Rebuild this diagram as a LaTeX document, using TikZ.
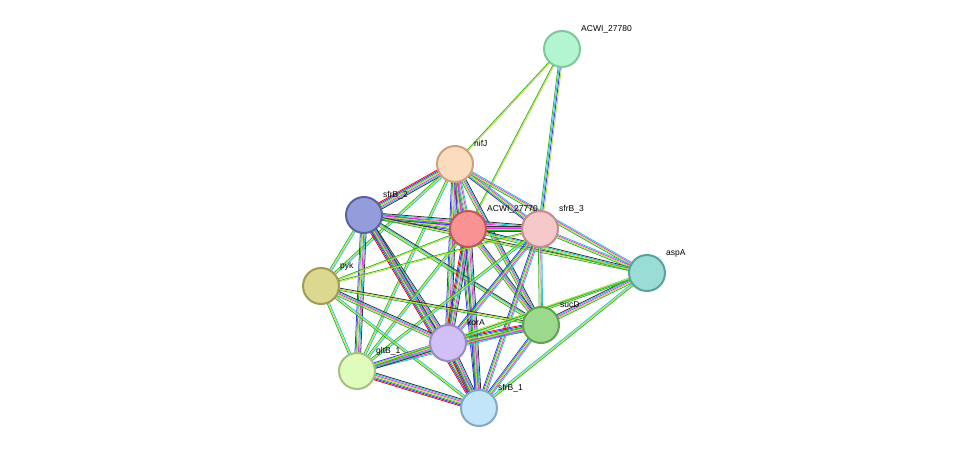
\documentclass[tikz,border=0pt]{standalone}
\usepackage{fontspec}
\setmainfont{Liberation Sans}
\usetikzlibrary{calc}
\pgfdeclarelayer{bg}\pgfsetlayers{bg,main}
\definecolor{cr}{HTML}{FF0000}
\definecolor{cb}{HTML}{3333FF}
\definecolor{cg}{HTML}{22BB22}
\definecolor{cy}{HTML}{C8D640}
\definecolor{cm}{HTML}{EE33EE}
\definecolor{cc}{HTML}{22C5D5}
\definecolor{ck}{HTML}{333333}
\definecolor{fa}{HTML}{B3F5D0}\definecolor{da}{HTML}{7FC79C}
\definecolor{fn}{HTML}{FCDCBF}\definecolor{dn}{HTML}{C9A27F}
\definecolor{fs2}{HTML}{959CDB}\definecolor{ds2}{HTML}{5B629F}
\definecolor{fb}{HTML}{F99393}\definecolor{db}{HTML}{C05656}
\definecolor{fs3}{HTML}{F7C8C8}\definecolor{ds3}{HTML}{BF8E8E}
\definecolor{fasp}{HTML}{99DDD6}\definecolor{dasp}{HTML}{5AA39A}
\definecolor{fp}{HTML}{DCD88F}\definecolor{dp}{HTML}{A09C52}
\definecolor{fsu}{HTML}{9CD98C}\definecolor{dsu}{HTML}{62A052}
\definecolor{fk}{HTML}{D0C0F7}\definecolor{dk}{HTML}{9A8AC0}
\definecolor{fg}{HTML}{E0FCBC}\definecolor{dg}{HTML}{A4C27E}
\definecolor{fs1}{HTML}{C3E5FA}\definecolor{ds1}{HTML}{80AAC8}
\newcommand\Edge[4]{\foreach \c [count=\i] in {#4}{\pgfmathsetmacro\o{(\i-(#3+1)/2)*1.15}\draw[draw=\c,line width=0.8pt] ($(#1)!\o pt!90:(#2)$) -- ($(#2)!\o pt!-90:(#1)$);}}
\tikzset{prot/.style={circle,minimum size=36pt,inner sep=0,line width=2pt,fill=f#1,draw=d#1},
lab/.style={anchor=base west,font=\fontsize{8.5}{10}\selectfont,inner sep=0}}
\begin{document}
\begin{tikzpicture}[x=1pt,y=-1pt]
\useasboundingbox (0,0) rectangle (975,454);
\node[prot=a] (a) at (562,49) {};
\node[prot=n] (n) at (455,164) {};
\node[prot=s2] (s2) at (364,215) {};
\node[prot=b] (b) at (468,229) {};
\node[prot=s3] (s3) at (540,229) {};
\node[prot=asp] (asp) at (647,273) {};
\node[prot=p] (p) at (321,286) {};
\node[prot=su] (su) at (541,325) {};
\node[prot=k] (k) at (448,343) {};
\node[prot=g] (g) at (357,371) {};
\node[prot=s1] (s1) at (479,408) {};
\node[lab] (la) at (581,32) {ACWI\_27780};
\node[lab] (ln) at (474,147) {nifJ};
\node[lab] (ls2) at (383,198) {sfrB\_2};
\node[lab] (lb) at (487,212) {ACWI\_27770};
\node[lab] (ls3) at (559,212) {sfrB\_3};
\node[lab] (lasp) at (666,256) {aspA};
\node[lab] (lp) at (340,269) {pyk};
\node[lab] (lsu) at (560,308) {sucD};
\node[lab] (lk) at (467,326) {korA};
\node[lab] (lg) at (376,354) {gltB\_1};
\node[lab] (ls1) at (498,391) {sfrB\_1};
\begin{pgfonlayer}{bg}
\Edge{a}{n}{2}{cg,cy}
\Edge{a}{b}{2}{cg,cy}
\Edge{a}{s3}{4}{cg,cc,cb,cy}
\Edge{n}{s2}{7}{cr,cb,cg,cy,cm,cc,ck}
\Edge{n}{b}{6}{cr,cb,cg,cy,cm,cc}
\Edge{n}{s3}{5}{cb,cg,cy,cm,cc}
\Edge{n}{p}{3}{cg,cy,cc}
\Edge{n}{su}{5}{cg,cy,cm,cc,ck}
\Edge{n}{k}{6}{cb,cg,cy,cm,cc,ck}
\Edge{n}{g}{3}{cg,cy,cc}
\Edge{n}{s1}{5}{cb,cg,cy,cm,cc}
\Edge{n}{asp}{4}{cg,cy,cm,cc}
\Edge{s2}{b}{6}{cb,cg,cy,cm,cc,ck}
\Edge{s2}{s3}{6}{cb,cg,cy,cm,cc,ck}
\Edge{s2}{p}{3}{cg,cy,cc}
\Edge{s2}{su}{4}{cg,cy,cc,ck}
\Edge{s2}{k}{6}{cb,cg,cy,cm,cc,ck}
\Edge{s2}{g}{6}{cb,cg,cy,cm,cc,ck}
\Edge{s2}{s1}{7}{cr,cb,cg,cy,cm,cc,ck}
\Edge{s2}{asp}{3}{cg,cy,ck}
\Edge{b}{s3}{6}{cb,cg,cy,cm,cc,ck}
\Edge{b}{p}{2}{cg,cy}
\Edge{b}{su}{5}{cg,cy,cm,cc,ck}
\Edge{b}{k}{7}{cr,cb,cg,cy,cm,cc,ck}
\Edge{b}{g}{3}{cg,cy,cc}
\Edge{b}{s1}{6}{cb,cg,cy,cm,cc,ck}
\Edge{b}{asp}{4}{cg,cy,cc,ck}
\Edge{s3}{asp}{4}{cg,cy,cm,cc}
\Edge{s3}{su}{4}{cg,cy,cm,cc}
\Edge{s3}{k}{5}{cb,cg,cy,cm,cc}
\Edge{s3}{g}{3}{cg,cy,cc}
\Edge{s3}{s1}{5}{cb,cg,cy,cm,cc}
\Edge{s3}{p}{2}{cg,cy}
\Edge{p}{su}{3}{cg,cy,ck}
\Edge{p}{k}{5}{cg,cy,cm,cc,ck}
\Edge{p}{g}{3}{cg,cy,cc}
\Edge{p}{s1}{3}{cg,cy,cc}
\Edge{su}{k}{7}{cr,cb,cg,cy,cm,cc,ck}
\Edge{su}{g}{4}{cg,cy,cm,cc}
\Edge{su}{s1}{5}{cb,cg,cy,cm,cc}
\Edge{su}{asp}{5}{cg,cy,cm,cc,ck}
\Edge{k}{g}{6}{cb,cg,cy,cm,cc,ck}
\Edge{k}{s1}{7}{cr,cb,cg,cy,cm,cc,ck}
\Edge{k}{asp}{3}{cg,cy,cc}
\Edge{g}{s1}{7}{cr,cb,cg,cy,cm,cc,ck}
\Edge{s1}{asp}{3}{cg,cy,cc}
\Edge{g}{asp}{2}{cg,cy}
\end{pgfonlayer}
\end{tikzpicture}
\end{document}
